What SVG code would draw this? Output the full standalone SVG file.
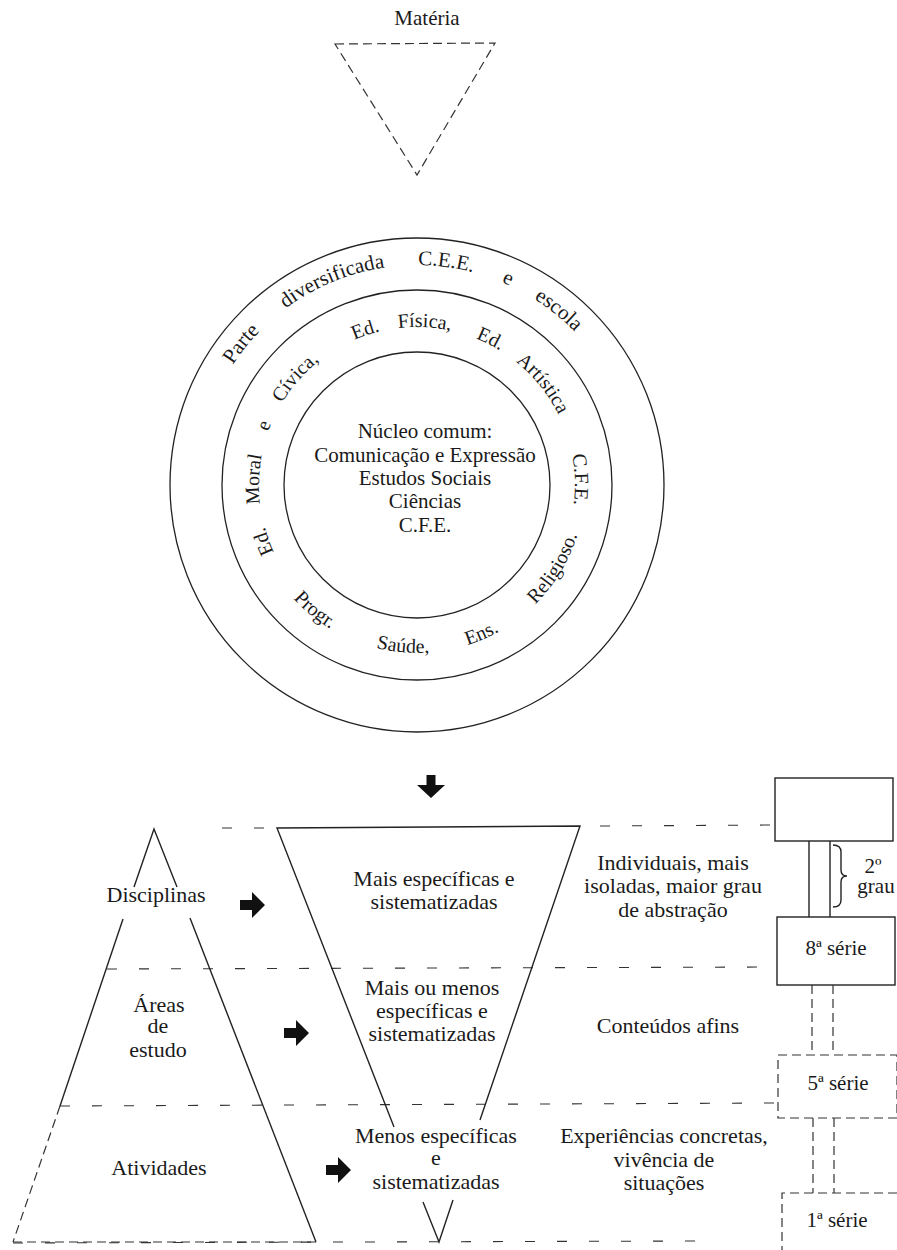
<svg xmlns="http://www.w3.org/2000/svg" xmlns:xlink="http://www.w3.org/1999/xlink" width="897" height="1250" viewBox="0 0 897 1250">
<style>
  .t { font-family: "Liberation Serif", "DejaVu Serif", serif; fill: #1a1a1a; }
  .c { text-anchor: middle; }
  .s22 { font-size: 22px; }
  .s21 { font-size: 21px; }
  .s20 { font-size: 20px; }
  .ln { stroke: #222; stroke-width: 1.4; fill: none; }
  .ring { stroke: #222; stroke-width: 1.3; fill: none; }
  .dash { stroke: #333; stroke-width: 1.1; fill: none; stroke-dasharray: 10 22; }
  .dash2 { stroke: #333; stroke-width: 1.2; fill: none; stroke-dasharray: 9 5; }
  .arr { fill: #111; }
</style>
<defs>
  <path id="outerArc" d="M 261.4 640.6 A 220 220 0 1 1 572.6 640.6"/>
  <path id="midArc" d="M 305.3 596.7 A 158 158 0 1 1 528.7 596.7"/>
  <path id="botArc" d="M 259.1 427.5 A 168 168 0 1 0 574.9 427.5"/>
  <path id="rarrow" d="M 0 -5 L 12 -5 L 12 -13 L 25 0 L 12 13 L 12 5 L 0 5 Z"/>
</defs>
<rect width="897" height="1250" fill="#ffffff"/>

<g id="materia">
  <text class="t s21 c" x="427" y="25">Matéria</text>
  <path class="dash2" d="M 335 44 L 495 43 L 417 175 Z"/>
</g>

<g id="rings">
  <circle class="ring" cx="417" cy="485" r="247"/>
  <circle class="ring" cx="417" cy="485" r="195"/>
  <circle class="ring" cx="417" cy="485" r="133"/>
  <g id="outer-ring-text" class="t s21">
    <text text-anchor="middle"><textPath xlink:href="#outerArc" startOffset="321.4">Parte</textPath></text>
    <text text-anchor="middle"><textPath xlink:href="#outerArc" startOffset="431.6">diversificada</textPath></text>
    <text text-anchor="middle"><textPath xlink:href="#outerArc" startOffset="546.8">C.E.E.</textPath></text>
    <text text-anchor="middle"><textPath xlink:href="#outerArc" startOffset="609.4">e</textPath></text>
    <text text-anchor="middle"><textPath xlink:href="#outerArc" startOffset="667.7">escola</textPath></text>
  </g>
  <g id="middle-ring-text" class="t s20">
    <text text-anchor="middle"><textPath xlink:href="#midArc" startOffset="68.4">Ed.</textPath></text>
    <text text-anchor="middle"><textPath xlink:href="#midArc" startOffset="129.6">Moral</textPath></text>
    <text text-anchor="middle"><textPath xlink:href="#midArc" startOffset="182.6">e</textPath></text>
    <text text-anchor="middle"><textPath xlink:href="#midArc" startOffset="238.5">Cívica,</textPath></text>
    <text text-anchor="middle"><textPath xlink:href="#midArc" startOffset="321.3">Ed.</textPath></text>
    <text text-anchor="middle"><textPath xlink:href="#midArc" startOffset="379.7">Física,</textPath></text>
    <text text-anchor="middle"><textPath xlink:href="#midArc" startOffset="445.9">Ed.</textPath></text>
    <text text-anchor="middle"><textPath xlink:href="#midArc" startOffset="513.2">Artística</textPath></text>
    <text text-anchor="middle"><textPath xlink:href="#midArc" startOffset="615.0">C.F.E.</textPath></text>
    <text text-anchor="middle"><textPath xlink:href="#botArc" startOffset="207.3">Progr.</textPath></text>
    <text text-anchor="middle"><textPath xlink:href="#botArc" startOffset="307.9">Saúde,</textPath></text>
    <text text-anchor="middle"><textPath xlink:href="#botArc" startOffset="390.9">Ens.</textPath></text>
    <text text-anchor="middle"><textPath xlink:href="#botArc" startOffset="494.1">Religioso.</textPath></text>
  </g>
  <g id="nucleo" class="t s21 c">
    <text x="425" y="438">Núcleo comum:</text>
    <text x="425" y="462">Comunicação e Expressão</text>
    <text x="425" y="485">Estudos Sociais</text>
    <text x="425" y="508">Ciências</text>
    <text x="425" y="532">C.F.E.</text>
  </g>
</g>

<g id="guides">
  <path class="dash" d="M 222 828 L 277 828 M 600 826 L 775 825"/>
  <path class="dash" d="M 107 969 L 777 967"/>
  <path class="dash" d="M 60 1106 L 778 1103"/>
  <path class="dash" d="M 13 1243 L 700 1241"/>
</g>

<g id="pyramid">
  <path class="ln" d="M 134 887 L 154 829 L 177 887"/>
  <path class="ln" d="M 190 918 L 316 1242"/>
  <path class="ln" d="M 123 919 L 60 1106"/>
  <path class="dash2" d="M 60 1106 L 13 1242"/>
  <path class="dash2" d="M 13 1242 L 316 1242"/>
  <text class="t s22 c" x="156" y="902">Disciplinas</text>
  <text class="t s22 c" x="159" y="1012">Áreas</text>
  <text class="t s22 c" x="158" y="1033">de</text>
  <text class="t s22 c" x="158" y="1057">estudo</text>
  <text class="t s22 c" x="159" y="1175">Atividades</text>
</g>

<g id="funnel">
  <path class="ln" d="M 394 1127 L 277 828 L 580 826 L 480 1120"/>
  <path class="ln" d="M 423 1202 L 439 1242 L 453 1200"/>
  <text class="t s22 c" x="434" y="886">Mais específicas e</text>
  <text class="t s22 c" x="434" y="909">sistematizadas</text>
  <text class="t s22 c" x="432" y="995">Mais ou menos</text>
  <text class="t s22 c" x="432" y="1018">específicas e</text>
  <text class="t s22 c" x="432" y="1041">sistematizadas</text>
  <text class="t s22 c" x="436" y="1143">Menos específicas</text>
  <text class="t s22 c" x="436" y="1165">e</text>
  <text class="t s22 c" x="436" y="1189">sistematizadas</text>
</g>

<g id="characteristics">
  <text class="t s22 c" x="673" y="870">Individuais, mais</text>
  <text class="t s22 c" x="673" y="893">isoladas, maior grau</text>
  <text class="t s22 c" x="673" y="917">de abstração</text>
  <text class="t s22 c" x="668" y="1033">Conteúdos afins</text>
  <text class="t s22 c" x="664" y="1143">Experiências concretas,</text>
  <text class="t s22 c" x="664" y="1167">vivência de</text>
  <text class="t s22 c" x="664" y="1190">situações</text>
</g>

<g id="grades">
  <g id="box-top">
    <rect class="ln" x="775" y="778" width="118" height="63"/>
  </g>
  <path class="ln" d="M 809 841 L 809 917 M 830 841 L 830 917"/>
  <path class="ln" d="M 833 845 Q 841 845 841 852 L 841 870 Q 841 876 847 876 Q 841 876 841 882 L 841 900 Q 841 907 833 907"/>
  <text class="t s21 c" x="873" y="873">2º</text>
  <text class="t s21 c" x="876" y="893">grau</text>
  <g id="box-8">
    <rect class="ln" x="777" y="917" width="118" height="68"/>
    <text class="t s21 c" x="836" y="955">8ª série</text>
  </g>
  <path class="dash2" d="M 812 985 L 812 1055 M 833 985 L 833 1055"/>
  <g id="box-5">
    <rect class="dash2" x="778" y="1055" width="119" height="63"/>
    <text class="t s21 c" x="838" y="1090">5ª série</text>
  </g>
  <path class="dash2" d="M 813 1118 L 813 1193 M 834 1118 L 834 1193"/>
  <g id="box-1">
    <path class="dash2" d="M 897 1193 L 782 1193 L 782 1250"/>
    <text class="t s21 c" x="837" y="1227">1ª série</text>
  </g>
</g>

<g id="connectors">
  <path class="arr" d="M 426.5 775 L 435.5 775 L 435.5 785 L 445 785 L 431 798 L 417 785 L 426.5 785 Z"/>
  <use class="arr" xlink:href="#rarrow" x="240" y="905"/>
  <use class="arr" xlink:href="#rarrow" x="284" y="1033"/>
  <use class="arr" xlink:href="#rarrow" x="326" y="1170"/>
</g>
</svg>
